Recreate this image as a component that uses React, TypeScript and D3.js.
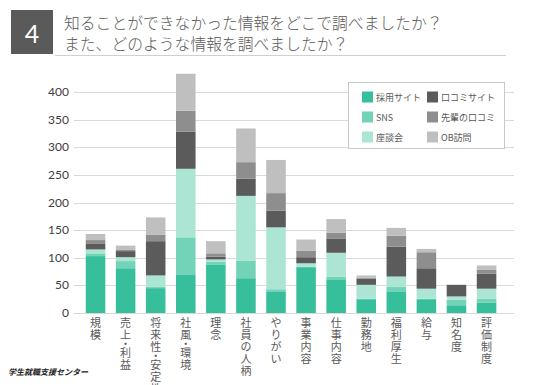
import { useEffect, useRef } from 'react'
import * as d3 from 'd3'

const categories = ['規模', '売上・利益', '将来性・安定性', '社風・環境', '理念', '社員の人柄', 'やりがい', '事業内容', '仕事内容', '勤務地', '福利厚生', '給与', '知名度', '評価制度']

const seriesNames = ['採用サイト', 'SNS', '座談会', '口コミサイト', '先輩の口コミ', 'OB訪問']
const seriesColors = ['#37BF9B', '#72D3B8', '#ACE5D3', '#5B5B5B', '#8E8E8E', '#BFBFBF']

// values, one array per series (same order as categories)
const saiyou = [103, 81, 45, 70, 88, 63, 38, 83, 61, 25, 38, 25, 14, 19]
const sns = [5, 13, 2, 67, 5, 32, 5, 1, 5, 1, 9, 1, 10, 7]
const zadankai = [7, 7, 21, 124, 4, 117, 112, 6, 43, 25, 19, 18, 6, 18]
const kuchikomi = [11, 11, 62, 67, 5, 31, 30, 11, 26, 11, 54, 37, 21, 27]
const senpai = [6, 2, 12, 38, 6, 30, 32, 12, 10, 2, 20, 29, 0, 7]
const obVisit = [11, 8, 31, 67, 22, 61, 60, 20, 25, 4, 14, 6, 0, 8]

const yTicks = [0, 50, 100, 150, 200, 250, 300, 350, 400]

export default function App() {
  const svgRef = useRef<SVGSVGElement>(null)
  const width = 533
  const height = 385

  useEffect(() => {
    document.body.style.margin = '0'
    if (!svgRef.current) return
    const svg = d3.select(svgRef.current)
    svg.selectAll('*').remove()

    svg.append('rect').attr('width', width).attr('height', height).attr('fill', '#fff')

    // Header
    svg.append('rect').attr('x', 11).attr('y', 10).attr('width', 42).attr('height', 44).attr('fill', '#5A5A5A')
    svg.append('text')
      .attr('x', 32).attr('y', 43).attr('text-anchor', 'middle')
      .attr('fill', '#fff').attr('font-size', '25px').attr('font-family', 'Lato, "Open Sans", sans-serif')
      .text('4')

    const title = ['知ることができなかった情報をどこで調べましたか？', 'また、どのような情報を調べましたか？']
    title.forEach((t, i) => {
      svg.append('text')
        .attr('x', 64).attr('y', 29 + i * 21)
        .attr('fill', '#595959').attr('font-size', '15.8px')
        .attr('font-family', '"Noto Sans CJK JP", sans-serif').attr('font-weight', 300)
        .text(t)
    })
    svg.append('line')
      .attr('x1', 55).attr('x2', 506).attr('y1', 55.5).attr('y2', 55.5)
      .attr('stroke', '#D0D0D0').attr('stroke-width', 1)

    // Scales
    const x = d3.scaleBand<string>().domain(categories).range([80.5, 501.6]).paddingInner(0.35).paddingOuter(0.175)
    const y = d3.scaleLinear().domain([0, 400]).range([313, 92])

    // Gridlines
    svg.append('g').selectAll('line').data(yTicks).join('line')
      .attr('x1', 74).attr('x2', 514)
      .attr('y1', d => Math.round(y(d)) + 0.5).attr('y2', d => Math.round(y(d)) + 0.5)
      .attr('stroke', '#D9D9D9').attr('stroke-width', 1)

    svg.append('g').selectAll('text').data(yTicks).join('text')
      .attr('x', 69).attr('y', d => y(d) + 4)
      .attr('text-anchor', 'end')
      .attr('fill', '#404040').attr('font-size', '12px').attr('font-family', 'Lato, sans-serif')
      .text(d => d)

    // Stacked bars
    const rows = categories.map((c, i) => ({
      cat: c,
      s0: saiyou[i], s1: sns[i], s2: zadankai[i], s3: kuchikomi[i], s4: senpai[i], s5: obVisit[i],
    }))
    const keys = ['s0', 's1', 's2', 's3', 's4', 's5']
    const stacked = d3.stack<any>().keys(keys)(rows)

    stacked.forEach((layer, k) => {
      svg.append('g').selectAll('rect').data(layer).join('rect')
        .attr('x', d => x(d.data.cat)!)
        .attr('width', x.bandwidth())
        .attr('y', d => y(d[1]))
        .attr('height', d => Math.max(0, y(d[0]) - y(d[1])))
        .attr('fill', seriesColors[k])
    })

    // Category labels, one character per line (tate-gaki)
    const pitch = 12
    const dotPitch = 6
    categories.forEach(cat => {
      const t = svg.append('text')
        .attr('text-anchor', 'middle')
        .attr('fill', '#595959').attr('font-size', '11px')
        .attr('font-family', '"Noto Sans CJK JP", sans-serif')
      const cx = x(cat)! + x.bandwidth() / 2
      let cursor = 317
      for (const ch of Array.from(cat)) {
        const adv = ch === '・' ? dotPitch : pitch
        t.append('tspan').attr('x', cx).attr('y', cursor + adv / 2 + 4.1).text(ch)
        cursor += adv
      }
    })

    // Legend
    const lg = svg.append('g')
    lg.append('rect').attr('x', 348.5).attr('y', 82.5).attr('width', 156).attr('height', 66)
      .attr('fill', '#fff').attr('stroke', '#C8C8C8')
    seriesNames.forEach((name, i) => {
      const col = Math.floor(i / 3)
      const row = i % 3
      const sx = col === 0 ? 362 : 427
      const cy = 97 + row * 20
      lg.append('rect').attr('x', sx).attr('y', cy - 5.5).attr('width', 11).attr('height', 11).attr('fill', seriesColors[i])
      lg.append('text').attr('x', sx + 14).attr('y', cy + 3.5)
        .attr('fill', '#595959').attr('font-size', '9px')
        .attr('font-family', '"Noto Sans CJK JP", sans-serif')
        .text(name)
    })

    // Source
    svg.append('text')
      .attr('x', 8).attr('y', 375)
      .attr('fill', '#222').attr('font-size', '8px').attr('font-style', 'italic').attr('font-weight', 'bold')
      .attr('font-family', '"Noto Sans CJK JP", sans-serif')
      .text('学生就職支援センター')
  }, [])

  return <svg ref={svgRef} width={width} height={height} style={{ display: 'block' }} />
}
